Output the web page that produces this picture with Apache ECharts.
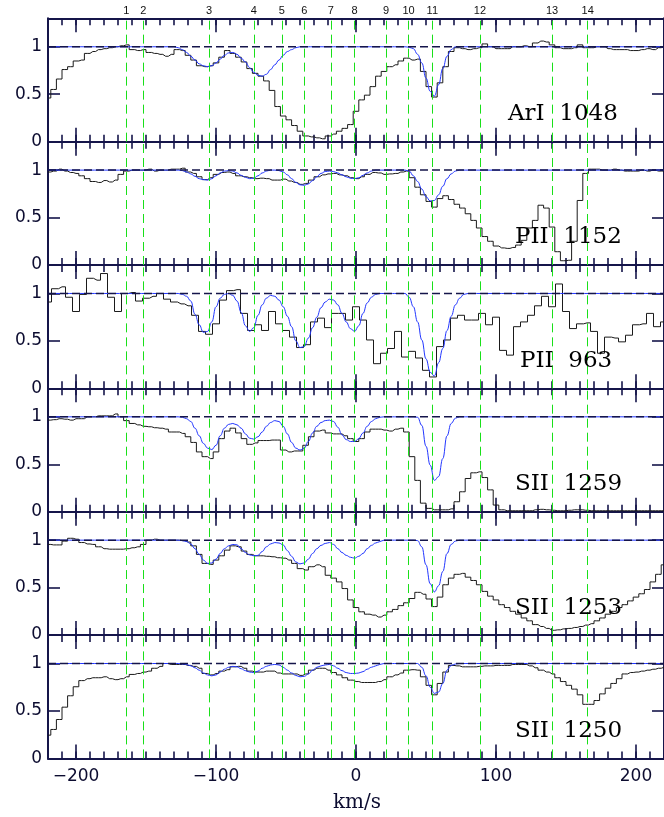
<!DOCTYPE html>
<html>
<head>
<meta charset="utf-8">
<script src="https://cdn.jsdelivr.net/npm/echarts@6/dist/echarts.min.js"></script>
<style>
  html, body { margin: 0; padding: 0; background: #ffffff; }
  #chart { width: 664px; height: 817px; }
</style>
</head>
<body>
<div id="chart"></div>
<script>
// ---- velocity axis (km/s) ----
const V_MIN = -220;
const V_MAX = 220;
const xMajorTicks = [-200, -100, 0, 100, 200];
const yTickLabels = [0, 0.5, 1];
const yTickMarks = [0.5, 1];

// ---- absorption components ----
const componentVel = [-164, -152, -105, -73, -53, -37, -18, -1, 21.5, 37.5, 54.5, 88.5, 140, 165.5];
const componentNames = ['1', '2', '3', '4', '5', '6', '7', '8', '9', '10', '11', '12', '13', '14'];

// ---- transitions, top to bottom ----
const panelLabels = ['ArI  1048', 'PII  1152', 'PII  963', 'SII  1259', 'SII  1253', 'SII  1250'];

// ---- observed normalised flux, one value per bin, first bin centred on V_MIN ----
const binWidths = [4, 4, 5, 4, 4, 4];

const fluxArI1048 = [
  0.46, 0.55, 0.66, 0.76, 0.79, 0.85, 0.86, 0.93, 0.95, 0.97, 0.98,
  0.99, 1.00, 1.01, 1.02, 0.97, 0.96, 0.97, 0.94, 0.93, 0.92,
  0.90, 0.92, 0.97, 0.96, 0.91, 0.86, 0.80, 0.79, 0.80, 0.83,
  0.89, 0.96, 0.93, 0.89, 0.84, 0.77, 0.72, 0.69, 0.64, 0.54,
  0.37, 0.27, 0.23, 0.17, 0.11, 0.06, 0.05, 0.04, 0.03, 0.06,
  0.08, 0.11, 0.14, 0.18, 0.32, 0.44, 0.49, 0.58, 0.69, 0.74,
  0.79, 0.81, 0.85, 0.88, 0.86, 0.87, 0.74, 0.58, 0.47, 0.62,
  0.79, 0.95, 0.99, 0.98, 0.97, 0.98, 0.99, 1.03, 1.00, 0.98,
  0.98, 0.98, 1.00, 1.00, 1.01, 1.00, 1.04, 1.06, 1.05, 1.02,
  0.99, 0.98, 0.98, 0.99, 1.02, 0.99, 0.99, 1.00, 1.00, 0.98,
  0.97, 0.97, 0.97, 0.96, 0.96, 0.97, 0.98, 0.97, 0.99, 1.00
];

const fluxPII1152 = [
  0.98, 0.99, 1.01, 0.99, 0.975, 0.965, 0.94, 0.91, 0.88, 0.87, 0.89,
  0.875, 0.895, 0.955, 0.99, 1.00, 1.00, 1.00, 1.01, 0.99, 1.00,
  1.00, 1.01, 1.01, 1.02, 0.98, 0.965, 0.93, 0.90, 0.92, 0.955,
  0.975, 0.98, 0.965, 0.94, 0.93, 0.92, 0.91, 0.915, 0.91, 0.895,
  0.895, 0.905, 0.885, 0.87, 0.85, 0.86, 0.895, 0.93, 0.95, 0.96,
  0.965, 0.95, 0.94, 0.92, 0.91, 0.93, 0.955, 0.975, 0.97, 0.955,
  0.96, 0.965, 0.98, 0.99, 0.92, 0.82, 0.74, 0.67, 0.61, 0.70,
  0.73, 0.69, 0.64, 0.60, 0.54, 0.47, 0.39, 0.30, 0.25, 0.20,
  0.18, 0.175, 0.185, 0.21, 0.26, 0.39, 0.47, 0.63, 0.60, 0.40,
  0.14, 0.045, 0.05, 0.25, 0.68, 0.965, 1.01, 1.01, 1.00, 1.00,
  1.01, 1.00, 0.99, 0.99, 0.99, 1.00, 0.99, 1.00, 0.99, 0.99
];

const fluxPII963 = [
  0.91, 1.05, 1.07, 0.96, 0.81, 0.99, 1.16, 1.14, 1.21, 0.96, 0.81,
  1.00, 1.01, 0.92, 0.95, 0.97, 1.00, 0.94, 0.91, 0.89, 0.87,
  0.77, 0.60, 0.57, 0.68, 0.93, 1.03, 1.04, 0.79, 0.61, 0.67,
  0.61, 0.81, 0.68, 0.61, 0.54, 0.43, 0.46, 0.70, 0.74, 0.64,
  0.79, 0.79, 0.72, 0.86, 0.72, 0.51, 0.26, 0.37, 0.42, 0.60,
  0.33, 0.39, 0.32, 0.19, 0.12, 0.44, 0.51, 0.74, 0.77, 0.72,
  0.72, 0.79, 0.67, 0.75, 0.40, 0.35, 0.65, 0.70, 0.77, 0.87,
  0.97, 0.86, 1.10, 0.81, 0.63, 0.68, 0.69, 0.60, 0.37, 0.54,
  0.53, 0.49, 0.56, 0.67, 0.68, 0.79, 0.65, 0.70
];

const fluxSII1259 = [
  0.965, 0.97, 0.98, 0.975, 0.965, 0.98, 0.98, 1.00, 1.00, 1.01, 1.01,
  1.01, 1.03, 1.00, 0.96, 0.93, 0.915, 0.90, 0.895, 0.885, 0.88,
  0.87, 0.84, 0.84, 0.825, 0.79, 0.73, 0.63, 0.58, 0.56, 0.63,
  0.77, 0.85, 0.88, 0.83, 0.77, 0.71, 0.725, 0.75, 0.75, 0.755,
  0.755, 0.65, 0.63, 0.64, 0.64, 0.70, 0.79, 0.85, 0.86, 0.83,
  0.82, 0.82, 0.80, 0.77, 0.74, 0.77, 0.84, 0.87, 0.87, 0.86,
  0.85, 0.87, 0.88, 0.84, 0.58, 0.33, 0.09, 0.035, 0.02, 0.02,
  0.02, 0.03, 0.105, 0.21, 0.35, 0.41, 0.42, 0.36, 0.23, 0.07,
  0.02, 0.01, 0.01, 0.01, 0.01, 0.01, 0.02, 0.025, 0.02, 0.015,
  0.01, 0.01, 0.015, 0.02, 0.02, 0.015, 0.01, 0.01, 0.01, 0.01,
  0.01, 0.01, 0.01, 0.01, 0.01, 0.01, 0.01, 0.01, 0.01, 0.01
];

const fluxSII1253 = [
  0.955, 0.95, 0.95, 0.99, 1.02, 1.01, 0.975, 0.96, 0.955, 0.93, 0.91,
  0.905, 0.905, 0.905, 0.91, 0.92, 0.93, 0.955, 1.00, 1.01, 1.00,
  1.00, 1.00, 1.00, 0.995, 0.98, 0.94, 0.85, 0.755, 0.745, 0.79,
  0.835, 0.895, 0.94, 0.93, 0.885, 0.85, 0.835, 0.835, 0.83, 0.825,
  0.815, 0.81, 0.79, 0.755, 0.70, 0.685, 0.72, 0.74, 0.72, 0.63,
  0.60, 0.56, 0.49, 0.37, 0.29, 0.245, 0.22, 0.21, 0.19, 0.21,
  0.245, 0.27, 0.31, 0.34, 0.385, 0.45, 0.43, 0.38, 0.30, 0.40,
  0.53, 0.60, 0.64, 0.65, 0.61, 0.575, 0.53, 0.46, 0.41, 0.37,
  0.32, 0.29, 0.25, 0.22, 0.18, 0.15, 0.11, 0.09, 0.07, 0.05,
  0.055, 0.065, 0.07, 0.08, 0.09, 0.105, 0.12, 0.15, 0.18, 0.22,
  0.25, 0.29, 0.32, 0.36, 0.40, 0.435, 0.48, 0.56, 0.64, 0.74
];

const fluxSII1250 = [
  0.245, 0.305, 0.41, 0.54, 0.66, 0.755, 0.82, 0.84, 0.85, 0.85, 0.86,
  0.84, 0.83, 0.84, 0.86, 0.885, 0.895, 0.91, 0.92, 0.95, 0.97,
  1.00, 0.99, 0.99, 0.99, 0.98, 0.97, 0.95, 0.895, 0.88, 0.895,
  0.92, 0.935, 0.965, 0.97, 0.95, 0.92, 0.91, 0.91, 0.92, 0.92,
  0.90, 0.89, 0.89, 0.89, 0.875, 0.89, 0.93, 0.95, 0.95, 0.93,
  0.905, 0.88, 0.85, 0.825, 0.81, 0.80, 0.80, 0.80, 0.81, 0.83,
  0.86, 0.88, 0.90, 0.93, 0.935, 0.93, 0.86, 0.77, 0.67, 0.79,
  0.91, 0.98, 0.975, 0.965, 0.965, 0.965, 0.97, 0.975, 0.975, 0.98,
  0.98, 0.98, 0.99, 0.99, 0.99, 0.975, 0.955, 0.93, 0.91, 0.89,
  0.85, 0.81, 0.77, 0.73, 0.67, 0.57, 0.57, 0.61, 0.68, 0.74,
  0.79, 0.84, 0.89, 0.905, 0.91, 0.92, 0.93, 0.94, 0.95, 0.96
];

// ---- fitted model profiles, sampled from MODEL_START every MODEL_STEP km/s ----
// (continuum = 1 outside the sampled range)
const MODEL_START = -130;
const MODEL_STEP = 3;

const modelArI1048 = [
  1.00, 0.99, 0.97, 0.94, 0.90, 0.86, 0.82, 0.80, 0.79, 0.80,
  0.83, 0.87, 0.91, 0.935, 0.94, 0.92, 0.88, 0.84, 0.78, 0.73,
  0.70, 0.69, 0.71, 0.76, 0.81, 0.86, 0.91, 0.95, 0.97, 0.99,
  1.00, 1.00, 1.00, 1.00, 1.00, 1.00, 1.00, 1.00, 1.00, 1.00,
  1.00, 1.00, 1.00, 1.00, 1.00, 1.00, 1.00, 1.00, 1.00, 1.00,
  1.00, 1.00, 1.00, 1.00, 1.00, 1.00, 0.995, 0.98, 0.92, 0.83,
  0.67, 0.53, 0.48, 0.60, 0.77, 0.90, 0.97, 1.00, 1.00, 1.00, 1.00
];

const modelPII1152 = [
  1.00, 1.00, 0.995, 0.98, 0.96, 0.935, 0.91, 0.90, 0.895, 0.91,
  0.94, 0.97, 0.99, 0.995, 0.99, 0.97, 0.945, 0.925, 0.91, 0.915,
  0.94, 0.97, 0.99, 1.00, 1.00, 0.995, 0.98, 0.95, 0.91, 0.87,
  0.845, 0.84, 0.855, 0.89, 0.93, 0.965, 0.985, 0.99, 0.985, 0.97,
  0.95, 0.93, 0.915, 0.91, 0.92, 0.945, 0.97, 0.99, 1.00, 1.00,
  1.00, 1.00, 1.00, 1.00, 1.00, 1.00, 0.99, 0.94, 0.88, 0.80,
  0.72, 0.675, 0.68, 0.74, 0.83, 0.91, 0.96, 0.99, 1.00, 1.00, 1.00
];

const modelPII963 = [
  1.00, 1.00, 0.99, 0.97, 0.92, 0.78, 0.67, 0.59, 0.60, 0.70,
  0.86, 0.95, 0.99, 1.00, 0.98, 0.92, 0.80, 0.66, 0.60, 0.64,
  0.77, 0.88, 0.95, 0.98, 0.97, 0.93, 0.86, 0.76, 0.65, 0.50,
  0.43, 0.44, 0.53, 0.64, 0.75, 0.85, 0.91, 0.94, 0.93, 0.88,
  0.79, 0.70, 0.63, 0.60, 0.66, 0.79, 0.90, 0.96, 0.99, 1.00,
  1.00, 1.00, 1.00, 1.00, 1.00, 1.00, 0.96, 0.86, 0.70, 0.51,
  0.31, 0.17, 0.13, 0.27, 0.42, 0.61, 0.76, 0.88, 0.95, 0.99, 1.00
];

const modelSII1259 = [
  1.00, 1.00, 0.995, 0.98, 0.95, 0.88, 0.80, 0.72, 0.67, 0.655,
  0.70, 0.80, 0.88, 0.92, 0.93, 0.915, 0.88, 0.82, 0.775, 0.765,
  0.79, 0.84, 0.90, 0.94, 0.96, 0.95, 0.90, 0.82, 0.73, 0.67,
  0.65, 0.67, 0.74, 0.83, 0.90, 0.94, 0.96, 0.965, 0.95, 0.89,
  0.81, 0.76, 0.74, 0.74, 0.77, 0.83, 0.90, 0.95, 0.98, 0.995,
  1.00, 1.00, 1.00, 1.00, 1.00, 1.00, 1.00, 1.00, 0.995, 0.91,
  0.69, 0.49, 0.33, 0.37, 0.56, 0.80, 0.93, 0.985, 1.00, 1.00, 1.00
];

const modelSII1253 = [
  1.00, 1.00, 0.995, 0.985, 0.96, 0.91, 0.85, 0.79, 0.755, 0.76,
  0.80, 0.86, 0.91, 0.94, 0.955, 0.95, 0.91, 0.87, 0.845, 0.835,
  0.84, 0.88, 0.93, 0.96, 0.975, 0.97, 0.95, 0.89, 0.83, 0.77,
  0.75, 0.76, 0.80, 0.86, 0.91, 0.945, 0.965, 0.975, 0.955, 0.91,
  0.87, 0.84, 0.82, 0.81, 0.83, 0.86, 0.91, 0.945, 0.97, 0.985,
  1.00, 1.00, 1.00, 1.00, 1.00, 1.00, 1.00, 1.00, 0.995, 0.93,
  0.74, 0.54, 0.455, 0.52, 0.67, 0.86, 0.955, 0.99, 1.00, 1.00, 1.00
];

const modelSII1250 = [
  1.00, 1.00, 0.995, 0.99, 0.975, 0.955, 0.93, 0.90, 0.88, 0.87,
  0.88, 0.91, 0.94, 0.96, 0.97, 0.965, 0.945, 0.925, 0.91, 0.905,
  0.92, 0.95, 0.97, 0.985, 0.99, 0.985, 0.96, 0.93, 0.90, 0.875,
  0.86, 0.865, 0.89, 0.93, 0.96, 0.975, 0.985, 0.99, 0.975, 0.95,
  0.925, 0.905, 0.895, 0.895, 0.90, 0.915, 0.94, 0.96, 0.975, 0.99,
  1.00, 1.00, 1.00, 1.00, 1.00, 1.00, 1.00, 1.00, 1.00, 0.96,
  0.87, 0.75, 0.685, 0.70, 0.79, 0.93, 0.98, 0.995, 1.00, 1.00, 1.00
];

const observed = [fluxArI1048, fluxPII1152, fluxPII963, fluxSII1259, fluxSII1253, fluxSII1250];
const models = [modelArI1048, modelPII1152, modelPII963, modelSII1259, modelSII1253, modelSII1250];

// ---- layout ----
const GRID_LEFT = 48;
const GRID_WIDTH = 618;
const GRID_TOP = 18.3;
const PANEL_H = 123.35;
const Y_MAX = 1.3;
const labelLeft = [508, 515, 520, 515, 515, 515];
const LABEL_RAISE = 27.5;

const AXIS_COLOR = '#15154a';
const TEXT_COLOR = '#0c0c30';
const GREEN = '#19e019';

const minorTicks = [];
for (let v = V_MIN + 10; v < V_MAX; v += 10) minorTicks.push(v);

function fmtVel(v) {
  return v < 0 ? '\u2212' + Math.abs(v) : String(v);
}

const grids = [], xAxes = [], yAxes = [], series = [], graphics = [];

for (let i = 0; i < 6; i++) {
  const top = GRID_TOP + i * PANEL_H;
  grids.push({ left: GRID_LEFT, top: top, width: GRID_WIDTH, height: PANEL_H, containLabel: false });

  const lineStyle = { color: AXIS_COLOR, width: 2 };
  const tickStyle = { color: AXIS_COLOR, width: 1.6 };
  const baseX = { gridIndex: i, type: 'value', min: V_MIN, max: V_MAX, splitLine: { show: false } };

  // bottom: minor ticks + line + labels
  xAxes.push(Object.assign({}, baseX, {
    position: 'bottom',
    axisLine: { show: true, onZero: false, lineStyle: lineStyle },
    axisTick: { show: true, inside: true, length: 7, customValues: minorTicks, lineStyle: tickStyle },
    axisLabel: {
      show: i === 5, customValues: xMajorTicks, formatter: fmtVel, margin: 10,
      fontSize: 17, fontFamily: 'DejaVu Sans', color: TEXT_COLOR
    }
  }));
  // bottom: major ticks
  xAxes.push(Object.assign({}, baseX, {
    position: 'bottom',
    axisLine: { show: false, onZero: false },
    axisTick: { show: true, inside: true, length: 14, customValues: xMajorTicks, lineStyle: tickStyle },
    axisLabel: { show: false }
  }));
  // top: minor ticks + line
  xAxes.push(Object.assign({}, baseX, {
    position: 'top',
    axisLine: { show: true, onZero: false, lineStyle: lineStyle },
    axisTick: { show: true, inside: true, length: 7, customValues: minorTicks, lineStyle: tickStyle },
    axisLabel: { show: false }
  }));
  // top: major ticks
  xAxes.push(Object.assign({}, baseX, {
    position: 'top',
    axisLine: { show: false, onZero: false },
    axisTick: { show: true, inside: true, length: 14, customValues: xMajorTicks, lineStyle: tickStyle },
    axisLabel: { show: false }
  }));

  yAxes.push({
    gridIndex: i, type: 'value', min: 0, max: Y_MAX, position: 'left',
    splitLine: { show: false },
    axisLine: { show: true, onZero: false, lineStyle: lineStyle },
    axisTick: { show: true, inside: true, length: 12, customValues: yTickMarks, lineStyle: tickStyle },
    axisLabel: {
      customValues: yTickLabels, margin: 6, fontSize: 17, fontFamily: 'DejaVu Sans', color: TEXT_COLOR
    }
  });
  yAxes.push({
    gridIndex: i, type: 'value', min: 0, max: Y_MAX, position: 'right',
    splitLine: { show: false },
    axisLine: { show: true, onZero: false, lineStyle: lineStyle },
    axisTick: { show: true, inside: true, length: 12, customValues: yTickMarks, lineStyle: tickStyle },
    axisLabel: { show: false }
  });

  const xi = 4 * i, yi = 2 * i;

  // component markers
  series.push({
    type: 'line', xAxisIndex: xi, yAxisIndex: yi, data: [], silent: true, z: 1,
    markLine: {
      silent: true, symbol: ['none', 'none'], animation: false,
      lineStyle: { color: GREEN, type: [9, 5], width: 1 },
      label: {
        show: i === 0, position: 'end', distance: 2, formatter: p => p.name,
        fontSize: 11, fontFamily: 'Liberation Sans', color: '#111111'
      },
      emphasis: { disabled: true },
      data: componentVel.map((v, k) => ({ xAxis: v, name: componentNames[k] }))
    }
  });

  // observed spectrum (histogram)
  const bw = binWidths[i];
  series.push({
    type: 'line', xAxisIndex: xi, yAxisIndex: yi, step: 'middle',
    showSymbol: false, symbol: 'none', silent: true, z: 3,
    lineStyle: { color: '#1a1a1a', width: 1 },
    data: observed[i].map((f, k) => [V_MIN + k * bw, f])
  });

  // model profile
  const mdata = [[V_MIN, 1]];
  models[i].forEach((f, k) => mdata.push([MODEL_START + k * MODEL_STEP, f]));
  mdata.push([V_MAX, 1]);
  series.push({
    type: 'line', xAxisIndex: xi, yAxisIndex: yi, smooth: 0.45, smoothMonotone: 'x',
    showSymbol: false, symbol: 'none', silent: true, z: 4,
    lineStyle: { color: '#2236ff', width: 1 },
    data: mdata
  });

  // continuum level
  series.push({
    type: 'line', xAxisIndex: xi, yAxisIndex: yi,
    showSymbol: false, symbol: 'none', silent: true, z: 5,
    lineStyle: { color: AXIS_COLOR, width: 1.5, type: [8, 4] },
    data: [[V_MIN, 1], [V_MAX, 1]]
  });

  graphics.push({
    type: 'text', x: labelLeft[i], y: top + PANEL_H - LABEL_RAISE, silent: true, z: 10,
    style: {
      text: panelLabels[i], fontSize: 23, fontFamily: 'DejaVu Serif', fill: '#000000',
      align: 'left', verticalAlign: 'middle'
    }
  });
}

graphics.push({
  type: 'text', x: GRID_LEFT + GRID_WIDTH * (0 - V_MIN) / (V_MAX - V_MIN), y: 803, silent: true,
  style: {
    text: 'km/s', fontSize: 20, fontFamily: 'DejaVu Serif', fill: TEXT_COLOR,
    align: 'center', verticalAlign: 'middle'
  }
});

const chart = echarts.init(document.getElementById('chart'), null, { renderer: 'canvas' });
chart.setOption({
  animation: false,
  backgroundColor: '#ffffff',
  grid: grids,
  xAxis: xAxes,
  yAxis: yAxes,
  series: series,
  graphic: graphics
});
</script>
</body>
</html>
